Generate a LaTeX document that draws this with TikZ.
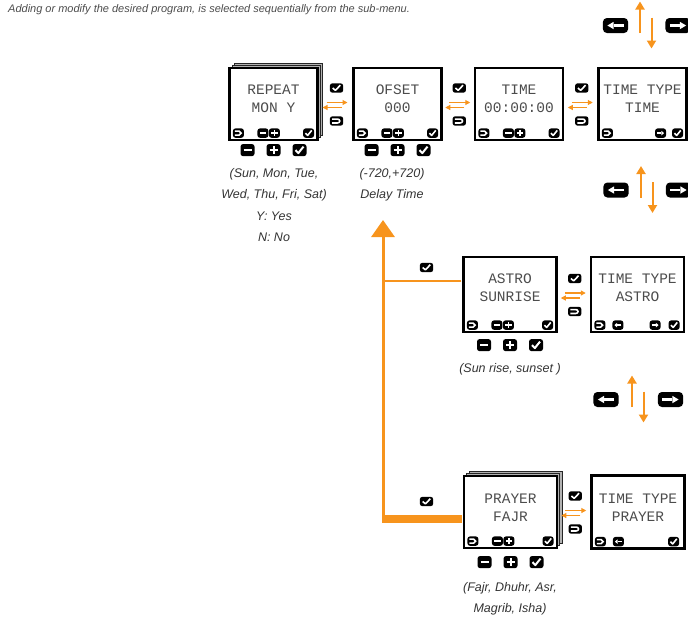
\documentclass[tikz,border=0pt]{standalone}
\usepackage{fontspec}
\setmainfont{Liberation Sans}
\newfontfamily\lcdfont{Liberation Mono}
\usepackage{xcolor}
\usetikzlibrary{arrows.meta,calc,shadows}
\definecolor{menuorange}{RGB}{247,148,29}

\tikzset{
    keybody/.style={fill=black, rounded corners=2.5pt},
    glyph/.style={draw=white, line width=2pt},
    pics/minuskey/.style={code={
        \fill[keybody] (-7,-6) rectangle (7,6);
        \draw[glyph] (-4,0) -- (4,0);
    }},
    pics/pluskey/.style={code={
        \fill[keybody] (-7,-6) rectangle (7,6);
        \draw[glyph] (-4,0) -- (4,0) (0,-4) -- (0,4);
    }},
    pics/okkey/.style={code={
        \fill[keybody] (-7,-6) rectangle (7,6);
        \draw[glyph, line join=round] (-4,0) -- (-1.2,3) -- (4,-3.5);
    }},
    pics/retkey/.style={code={
        \fill[keybody] (-7,-6) rectangle (7,6);
        \draw[glyph] (-4.5,-2.5) -- (1,-2.5) arc[start angle=-90, end angle=90, radius=2.5] -- (-4.5,2.5);
    }},
    pics/leftkey/.style={code={
        \fill[keybody] (-7,-6) rectangle (7,6);
        \draw[glyph] (4.5,0) -- (-1,0);
        \fill[white] (-4.5,0) -- (-1,-3) -- (-1,3) -- cycle;
    }},
    pics/rightkey/.style={code={
        \fill[keybody] (-7,-6) rectangle (7,6);
        \draw[glyph] (-4.5,0) -- (1,0);
        \fill[white] (4.5,0) -- (1,-3) -- (1,3) -- cycle;
    }},
    keysmall/.style={scale=.78, glyph/.append style={line width=1.6pt}},
    keymid/.style={xscale=.95, yscale=.78, glyph/.append style={line width=1.6pt}},
    keynav/.style={xscale=1.8, yscale=1.25, keybody/.append style={rounded corners=4pt},
        glyph/.append style={line width=2.4pt}},
}

\begin{document}
\begin{tikzpicture}[
    x=1pt, y=-1pt,
    screen/.style={draw=black, line width=2.2pt, fill=white, inner sep=0pt,
        minimum width=88pt, minimum height=72pt},
    stack/.style={double copy shadow={shadow xshift=2.5pt, shadow yshift=2.5pt,
        fill=black!30, draw=black!85, line width=.6pt}},
    lcd/.style={align=center, inner sep=0pt, text=black!70,
        font=\lcdfont\fontsize{14.5}{18}\selectfont},
    hint/.style={anchor=north, align=center, inner sep=0pt, text=black!80,
        font=\itshape\fontsize{12.5}{21.5}\selectfont},
    flow/.style={draw=menuorange, line width=1.1pt, -{Triangle[width=5pt,length=5pt]}},
    navarrow/.style={draw=menuorange, line width=2pt, -{Triangle[width=9pt,length=8pt]}},
]
    \useasboundingbox (0,0) rectangle (688,619);
    \node[anchor=west, inner sep=0pt, text=black!70, font=\itshape\fontsize{11}{13}\selectfont] (intro) at (8,10)
        {Adding or modify the desired program, is selected sequentially from the sub-menu.};

    % trunk back to the first menu
    \coordinate (bend) at (383,519);
    \coordinate (astro-j) at (383,281);
    \coordinate (tip) at (383,220);

    % screens
    \node[screen, stack] (rep) at (273.5,104) {};
    \node[screen] (ofs) at (397.5,104) {};
    \node[screen] (tim) at (519,104) {};
    \node[screen] (tt1) at (642.5,104) {};
    \node[screen, minimum width=93pt, minimum height=75pt] (astro) at (510,294.5) {};
    \node[screen, minimum width=93pt, minimum height=75pt] (tt2) at (637.5,294.5) {};
    \node[screen, stack, minimum width=93pt, minimum height=72pt] (prayer) at (510.5,512) {};
    \node[screen, minimum width=93pt, minimum height=73pt] (tt3) at (638,512) {};

    \node[lcd] (rep-t) at ($(rep)+(0,-5)$) {REPEAT\\MON Y};
    \node[lcd] (ofs-t) at ($(ofs)+(0,-5)$) {OFSET\\000};
    \node[lcd] (tim-t) at ($(tim)+(0,-5)$) {TIME\\00:00:00};
    \node[lcd] (tt1-t) at ($(tt1)+(0,-5)$) {TIME TYPE\\TIME};
    \node[lcd] (astro-t) at ($(astro)+(0,-6.5)$) {ASTRO\\SUNRISE};
    \node[lcd] (tt2-t) at ($(tt2)+(0,-6.5)$) {TIME TYPE\\ASTRO};
    \node[lcd] (prayer-t) at ($(prayer)+(0,-4.5)$) {PRAYER\\FAJR};
    \node[lcd] (tt3-t) at ($(tt3)+(0,-4.5)$) {TIME TYPE\\PRAYER};

    % keys on the screens
    \foreach \s in {rep,ofs,tim,astro,prayer} {
        \pic[keysmall] at ($(\s.south west)+(10,-8)$) {retkey};
        \pic[keysmall] at ($(\s.south west)+(34.5,-8)$) {minuskey};
        \pic[keysmall] at ($(\s.south west)+(46,-8)$) {pluskey};
        \pic[keysmall] at ($(\s.south east)+(-10,-8)$) {okkey};
    }
    \foreach \s in {tt1,tt2,tt3}
        \pic[keysmall] at ($(\s.south west)+(10,-8)$) {retkey};
    \pic[keysmall] at ($(tt1.south east)+(-27,-8)$) {rightkey};
    \pic[keysmall] at ($(tt1.south east)+(-10,-8)$) {okkey};
    \pic[keysmall] at ($(tt2.south west)+(28,-8)$) {leftkey};
    \pic[keysmall] at ($(tt2.south east)+(-30,-8)$) {rightkey};
    \pic[keysmall] at ($(tt2.south east)+(-11,-8)$) {okkey};
    \pic[keysmall] at ($(tt3.south west)+(28,-8)$) {leftkey};
    \pic[keysmall] at ($(tt3.south east)+(-12,-8)$) {okkey};

    % enter / back between screens
    \foreach \a/\b in {rep/ofs, ofs/tim, tim/tt1, astro/tt2, prayer/tt3} {
        \coordinate (gap) at ($(\a.east)!.5!(\b.west)$);
        \pic[keymid] at ($(gap)+(1,-16)$) {okkey};
        \draw[flow] ($(gap)+(-9,-1.5)$) -- ($(gap)+(12,-1.5)$);
        \draw[flow] ($(gap)+(6,3.5)$) -- ($(gap)+(-13,3.5)$);
        \pic[keymid] at ($(gap)+(1,17)$) {retkey};
    }

    % setting keys under the screens
    \foreach \s/\dy in {rep/9, ofs/9, astro/12, prayer/13} {
        \pic at ($(\s.south)+(-26,\dy)$) {minuskey};
        \pic at ($(\s.south)+(0,\dy)$) {pluskey};
        \pic at ($(\s.south)+(26,\dy)$) {okkey};
    }

    \node[hint] (rep-c) at (274,168) {(Sun, Mon, Tue,\\Wed, Thu, Fri, Sat)\\Y: Yes\\N: No};
    \node[hint] (ofs-c) at (392,168) {(-720,+720)\\Delay Time};
    \node[hint] (astro-c) at (510,363) {(Sun rise, sunset )};
    \node[hint] (prayer-c) at (510,582) {(Fajr, Dhuhr, Asr,\\Magrib, Isha)};

    \draw[menuorange, line width=8pt] ($(prayer.west |- bend)+(-1,0)$) -- ($(bend)+(-1.5,0)$);
    \draw[menuorange, line width=2.5pt] ($(astro.west |- astro-j)+(-1,0)$) -- (astro-j);
    \draw[menuorange, line width=3pt, -{Triangle[width=23pt,length=17pt]}] (bend) -- (tip);
    \pic[keymid] at (426.5,267.5) {okkey};
    \pic[keymid] at (426.5,501.5) {okkey};

    % menu navigation
    \foreach \lx/\ly/\ax/\rx [count=\i] in {615.5/25.5/640/678, 616/190/641/678.5, 606/399.5/632/670.5} {
        \coordinate (nav\i) at (\ax,\ly);
        \pic[keynav] at (\lx,\ly) {leftkey};
        \pic[keynav] at (\rx,\ly) {rightkey};
        \draw[navarrow] ($(nav\i)+(0,7.5)$) -- ($(nav\i)+(0,-24)$);
        \draw[navarrow] ($(nav\i)+(11.5,-8)$) -- ($(nav\i)+(11.5,23)$);
    }
\end{tikzpicture}
\end{document}
